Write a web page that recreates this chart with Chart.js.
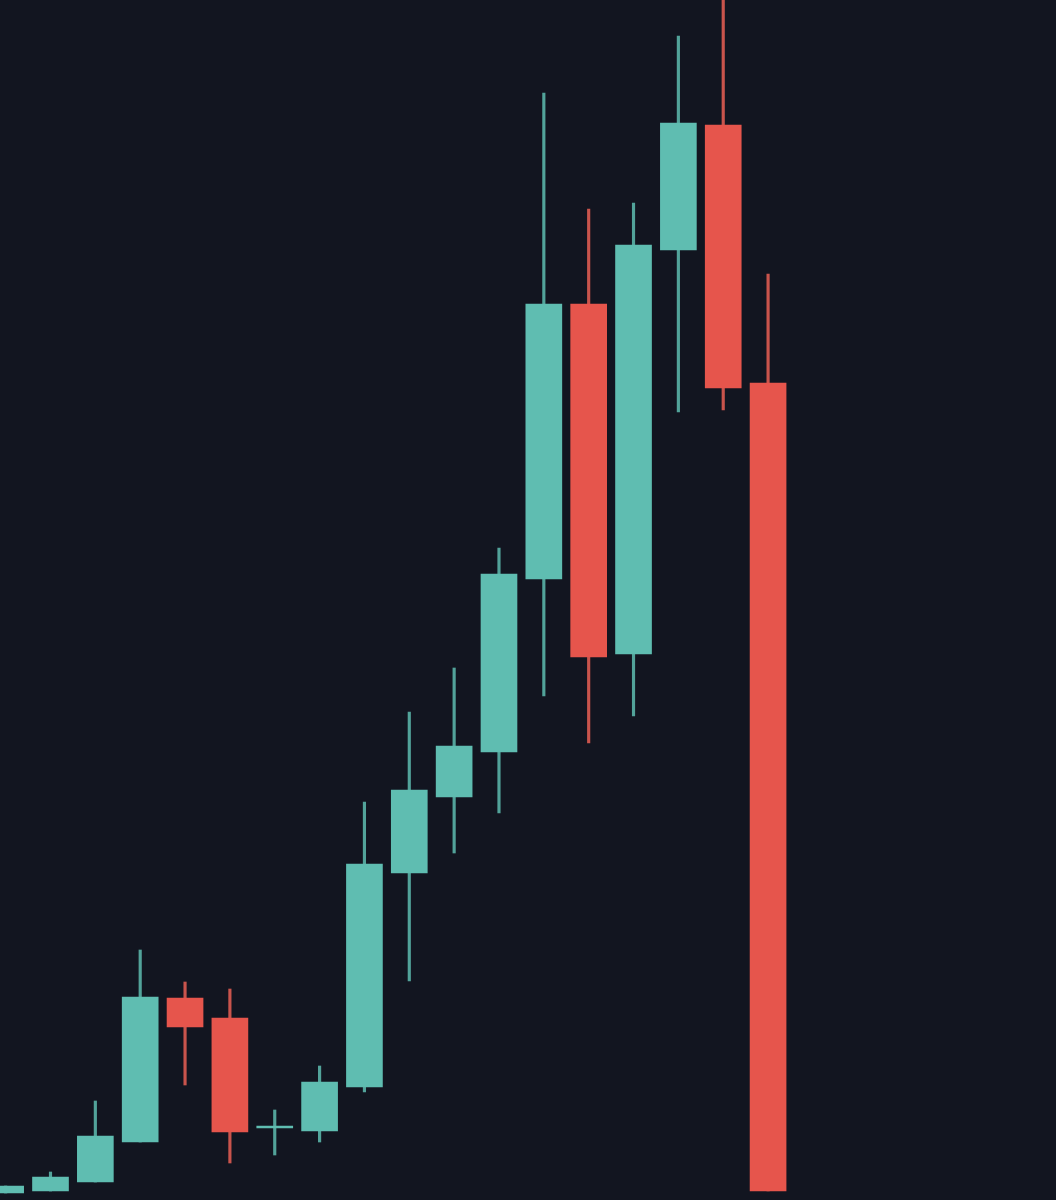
<!DOCTYPE html>
<html>
<head>
<meta charset="utf-8">
<script src="https://cdn.jsdelivr.net/npm/chart.js@4.4.1/dist/chart.umd.min.js"></script>
<style>
  html, body { margin: 0; padding: 0; background: #121520; }
  #wrap { width: 1056px; height: 1200px; position: relative; }
</style>
</head>
<body>
<div id="wrap"><canvas id="chart-candles"></canvas></div>
<script>
// candle index along the time axis
const candles = [0, 1, 2, 3, 4, 5, 6, 7, 8, 9, 10, 11, 12, 13, 14, 15, 16, 17];

// prices (arbitrary units)
const opens  = [7,  9,  18, 58,  202, 182, 72, 69,  113, 327, 403, 448, 621,  896, 546, 950,  1075, 817];
const closes = [14, 23, 64, 203, 173, 68,  74, 118, 336, 410, 454, 626, 896,  543, 955, 1077, 812,  9];
const highs  = [14, 28, 99, 250, 218, 211, 90, 134, 398, 488, 532, 652, 1107, 991, 997, 1164, 1215, 926];
const lows   = [7,  9,  18, 58,  115, 37,  45, 58,  108, 219, 347, 387, 504,  457, 484, 788,  790,  9];

const UP = "#5fbdb1";
const DOWN = "#e6554c";
const UP_WICK = "#52a39a";
const DOWN_WICK = "#c9544c";

document.addEventListener("DOMContentLoaded", () => {
  const rising = candles.map(i => closes[i] >= opens[i]);
  const bodyColors = rising.map(up => up ? UP : DOWN);
  const wickColors = rising.map(up => up ? UP_WICK : DOWN_WICK);

  const bodies = candles.map(i => ({ x: i, y: [opens[i], closes[i]] }));
  const wicks = candles.map(i => ({ x: i, y: [lows[i], highs[i]] }));

  new Chart(document.getElementById("chart-candles"), {
    type: "bar",
    data: {
      datasets: [
        {
          label: "body",
          data: bodies,
          backgroundColor: bodyColors,
          borderWidth: 0,
          barThickness: 36,
          grouped: false,
          order: 1
        },
        {
          label: "wick",
          data: wicks,
          backgroundColor: wickColors,
          borderWidth: 0,
          barThickness: 2.5,
          grouped: false,
          order: 2
        }
      ]
    },
    options: {
      responsive: true,
      maintainAspectRatio: false,
      animation: false,
      layout: { padding: 0 },
      plugins: {
        legend: { display: false },
        tooltip: { enabled: false }
      },
      scales: {
        x: {
          type: "linear",
          display: false,
          offset: false,
          min: -0.126,
          max: 23.42
        },
        y: {
          display: false,
          min: 0,
          max: 1200
        }
      }
    }
  });
});
</script>
</body>
</html>
